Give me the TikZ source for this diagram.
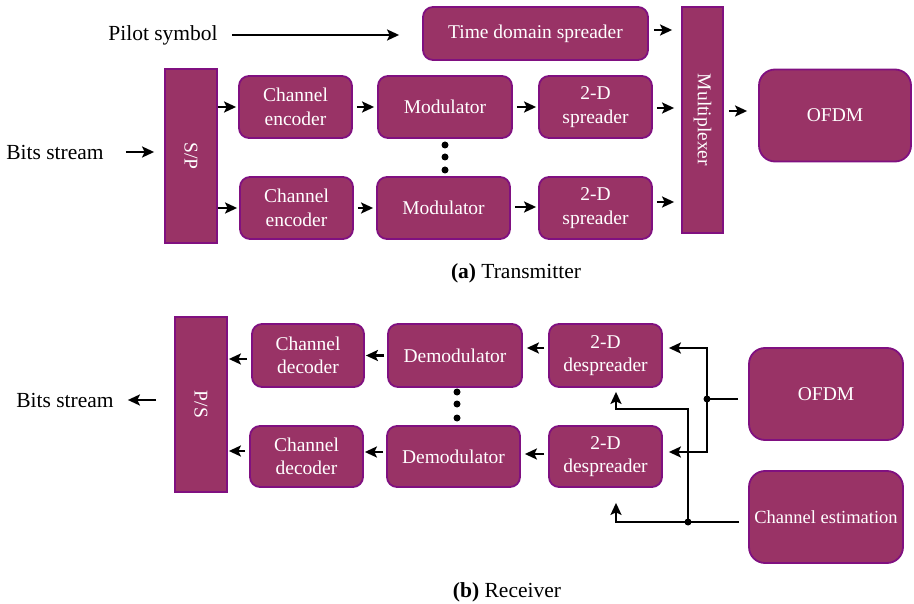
\documentclass[tikz,border=0pt]{standalone}
\usepackage{fontspec}
\setmainfont{Liberation Serif}
\usetikzlibrary{arrows.meta}
\definecolor{boxfill}{RGB}{153,51,102}
\definecolor{boxline}{RGB}{128,16,128}

\begin{document}
\begin{tikzpicture}[x=1pt,y=-1pt,
  blk/.style={draw=boxline,line width=1.8pt,fill=boxfill,rounded corners=10pt,text=white,align=center,inner sep=0pt,font=\fontsize{19.5}{23.5}\selectfont},
  bigblk/.style={blk,rounded corners=16pt,minimum width=154pt,minimum height=92pt},
  bar/.style={draw=boxline,line width=1.8pt,fill=boxfill,text=white,inner sep=0pt,rotate=-90,font=\fontsize{19.5}{23.5}\selectfont},
  lbl/.style={inner sep=0pt,font=\fontsize{21.5}{25}\selectfont},
  arr/.style={-{Stealth[length=12pt,width=11pt,inset=2.5pt]},line width=2.2pt,shorten <=4pt,shorten >=3pt},
  wire/.style={line width=2.2pt}]

\useasboundingbox (0,0) rectangle (914,604);

% (a) transmitter
\node[lbl] (pilot) at (163,35) {Pilot symbol};
\node[lbl] (bitsT) at (55,152) {Bits stream};
\node[blk,minimum width=225pt,minimum height=53pt] (tds) at (535.5,33.5) {Time domain spreader};
\node[bar,minimum width=174pt,minimum height=52pt] (sp) at (191,156) {S/P};
\node[bar,minimum width=226pt,minimum height=41pt] (mux) at (702.5,120) {Multiplexer};
\node[blk,minimum width=113pt,minimum height=62pt] (ce1) at (295.5,107) {Channel\\encoder};
\node[blk,minimum width=113pt,minimum height=62pt] (ce2) at (296.5,208) {Channel\\encoder};
\node[blk,minimum width=134pt,minimum height=62pt] (mod1) at (445,107) {Modulator};
\node[blk,minimum width=133pt,minimum height=62pt] (mod2) at (443.5,208) {Modulator};
\node[blk,minimum width=113pt,minimum height=62pt] (sd1) at (595.5,107) {2-D\\spreader};
\node[blk,minimum width=113pt,minimum height=62pt] (sd2) at (595.5,208) {2-D\\spreader};
\node[bigblk,minimum width=152pt] (ofdmT) at (835,115.5) {OFDM};
\node[lbl] (capA) at (516,273) {\textbf{(a)} Transmitter};

\draw[arr,shorten <=14pt,shorten >=23pt] (pilot.east) -- (pilot.east -| tds.west);
\draw[arr,shorten <=22pt,shorten >=10pt] (bitsT.east) -- (bitsT.east -| sp.south);
\draw[arr,shorten <=0pt,shorten >=2pt] (sp.north |- ce1.west) -- (ce1.west);
\draw[arr,shorten <=0pt,shorten >=2pt] (sp.north |- ce2.west) -- (ce2.west);
\draw[arr] (ce1.east) -- (ce1.east -| mod1.west);
\draw[arr] (ce2.east) -- (ce2.east -| mod2.west);
\draw[arr,shorten >=2pt] (mod1.east) -- (mod1.east -| sd1.west);
\draw[arr,shorten >=2pt] ([yshift=1pt]mod2.east) -- ([yshift=1pt]mod2.east -| sd2.west);
\draw[arr,shorten >=7pt] ([yshift=-1pt]sd1.east) -- ([yshift=-1pt]sd1.east -| mux.south);
\draw[arr,shorten >=7pt] ([yshift=6pt]sd2.east) -- ([yshift=6pt]sd2.east -| mux.south);
\draw[arr,shorten <=5pt,shorten >=9pt] ([yshift=3.5pt]tds.east) -- ([yshift=3.5pt]tds.east -| mux.south);
\draw[arr,shorten <=5pt,shorten >=11pt] ([yshift=4.5pt]ofdmT.west -| mux.north) -- ([yshift=4.5pt]ofdmT.west);
\foreach \y in {145,157,170} \fill (445,\y) circle (3.5pt);

% (b) receiver
\node[lbl] (bitsR) at (65,400) {Bits stream};
\node[bar,minimum width=175pt,minimum height=52pt] (ps) at (201,404.5) {P/S};
\node[blk,minimum width=112pt,minimum height=63pt] (cd1) at (308,355.5) {Channel\\decoder};
\node[blk,minimum width=113pt,minimum height=61pt] (cd2) at (306.5,456.5) {Channel\\decoder};
\node[blk,minimum width=134pt,minimum height=63pt] (dm1) at (455,355.5) {Demodulator};
\node[blk,minimum width=133pt,minimum height=61pt] (dm2) at (453.5,456.5) {Demodulator};
\node[blk,minimum width=113pt,minimum height=63pt] (ds1) at (605.5,355.5) {2-D\\despreader};
\node[blk,minimum width=113pt,minimum height=61pt] (ds2) at (605.5,456.5) {2-D\\despreader};
\node[bigblk] (ofdmR) at (826,394) {OFDM};
\node[bigblk,font=\fontsize{18.5}{22}\selectfont] (est) at (826,517) {Channel estimation};
\node[lbl] (capB) at (507,592) {\textbf{(b)} Receiver};

\coordinate (j1) at (707,399);
\coordinate (j2) at (688,522);
\coordinate (k2) at (688,409);

\draw[arr,shorten <=18pt,shorten >=14pt] (ps.south |- bitsR.east) -- (bitsR.east);
\draw[arr,shorten >=1pt] ([yshift=-3.5pt]cd1.west) -- ([yshift=-3.5pt]cd1.west -| ps.north);
\draw[arr,shorten >=1pt] ([yshift=5.5pt]cd2.west) -- ([yshift=5.5pt]cd2.west -| ps.north);
\draw[arr,shorten <=3pt,shorten >=1pt] (dm1.west) -- (dm1.west -| cd1.east);
\draw[arr,shorten <=3pt,shorten >=1pt] ([yshift=4.5pt]dm2.west) -- ([yshift=4.5pt]dm2.west -| cd2.east);
\draw[arr,shorten >=4pt] ([yshift=7.5pt]ds1.west) -- ([yshift=7.5pt]ds1.west -| dm1.east);
\draw[arr,shorten >=4pt] ([yshift=2.5pt]ds2.west) -- ([yshift=2.5pt]ds2.west -| dm2.east);
\foreach \y in {392,404,418} \fill (457,\y) circle (3.5pt);

\draw[wire] ([xshift=-10pt,yshift=-5pt]ofdmR.west) -- (j1);
\draw[arr,shorten <=0pt,shorten >=0pt] (j1) |- ([xshift=6pt,yshift=7.5pt]ds1.east);
\draw[arr,shorten <=0pt,shorten >=0pt] (j1) |- ([xshift=6pt,yshift=4.5pt]ds2.east);
\draw[arr,shorten <=0pt,shorten >=0pt] ([xshift=-9pt,yshift=-5pt]est.west) -| ([xshift=10.5pt,yshift=-15pt]ds2.south);
\draw[arr,shorten <=0pt,shorten >=0pt] (j2) -- (k2) -| ([xshift=10.5pt,yshift=-4pt]ds1.south);
\fill (j1) circle (3.5pt);
\fill (j2) circle (3.5pt);

\end{tikzpicture}
\end{document}
